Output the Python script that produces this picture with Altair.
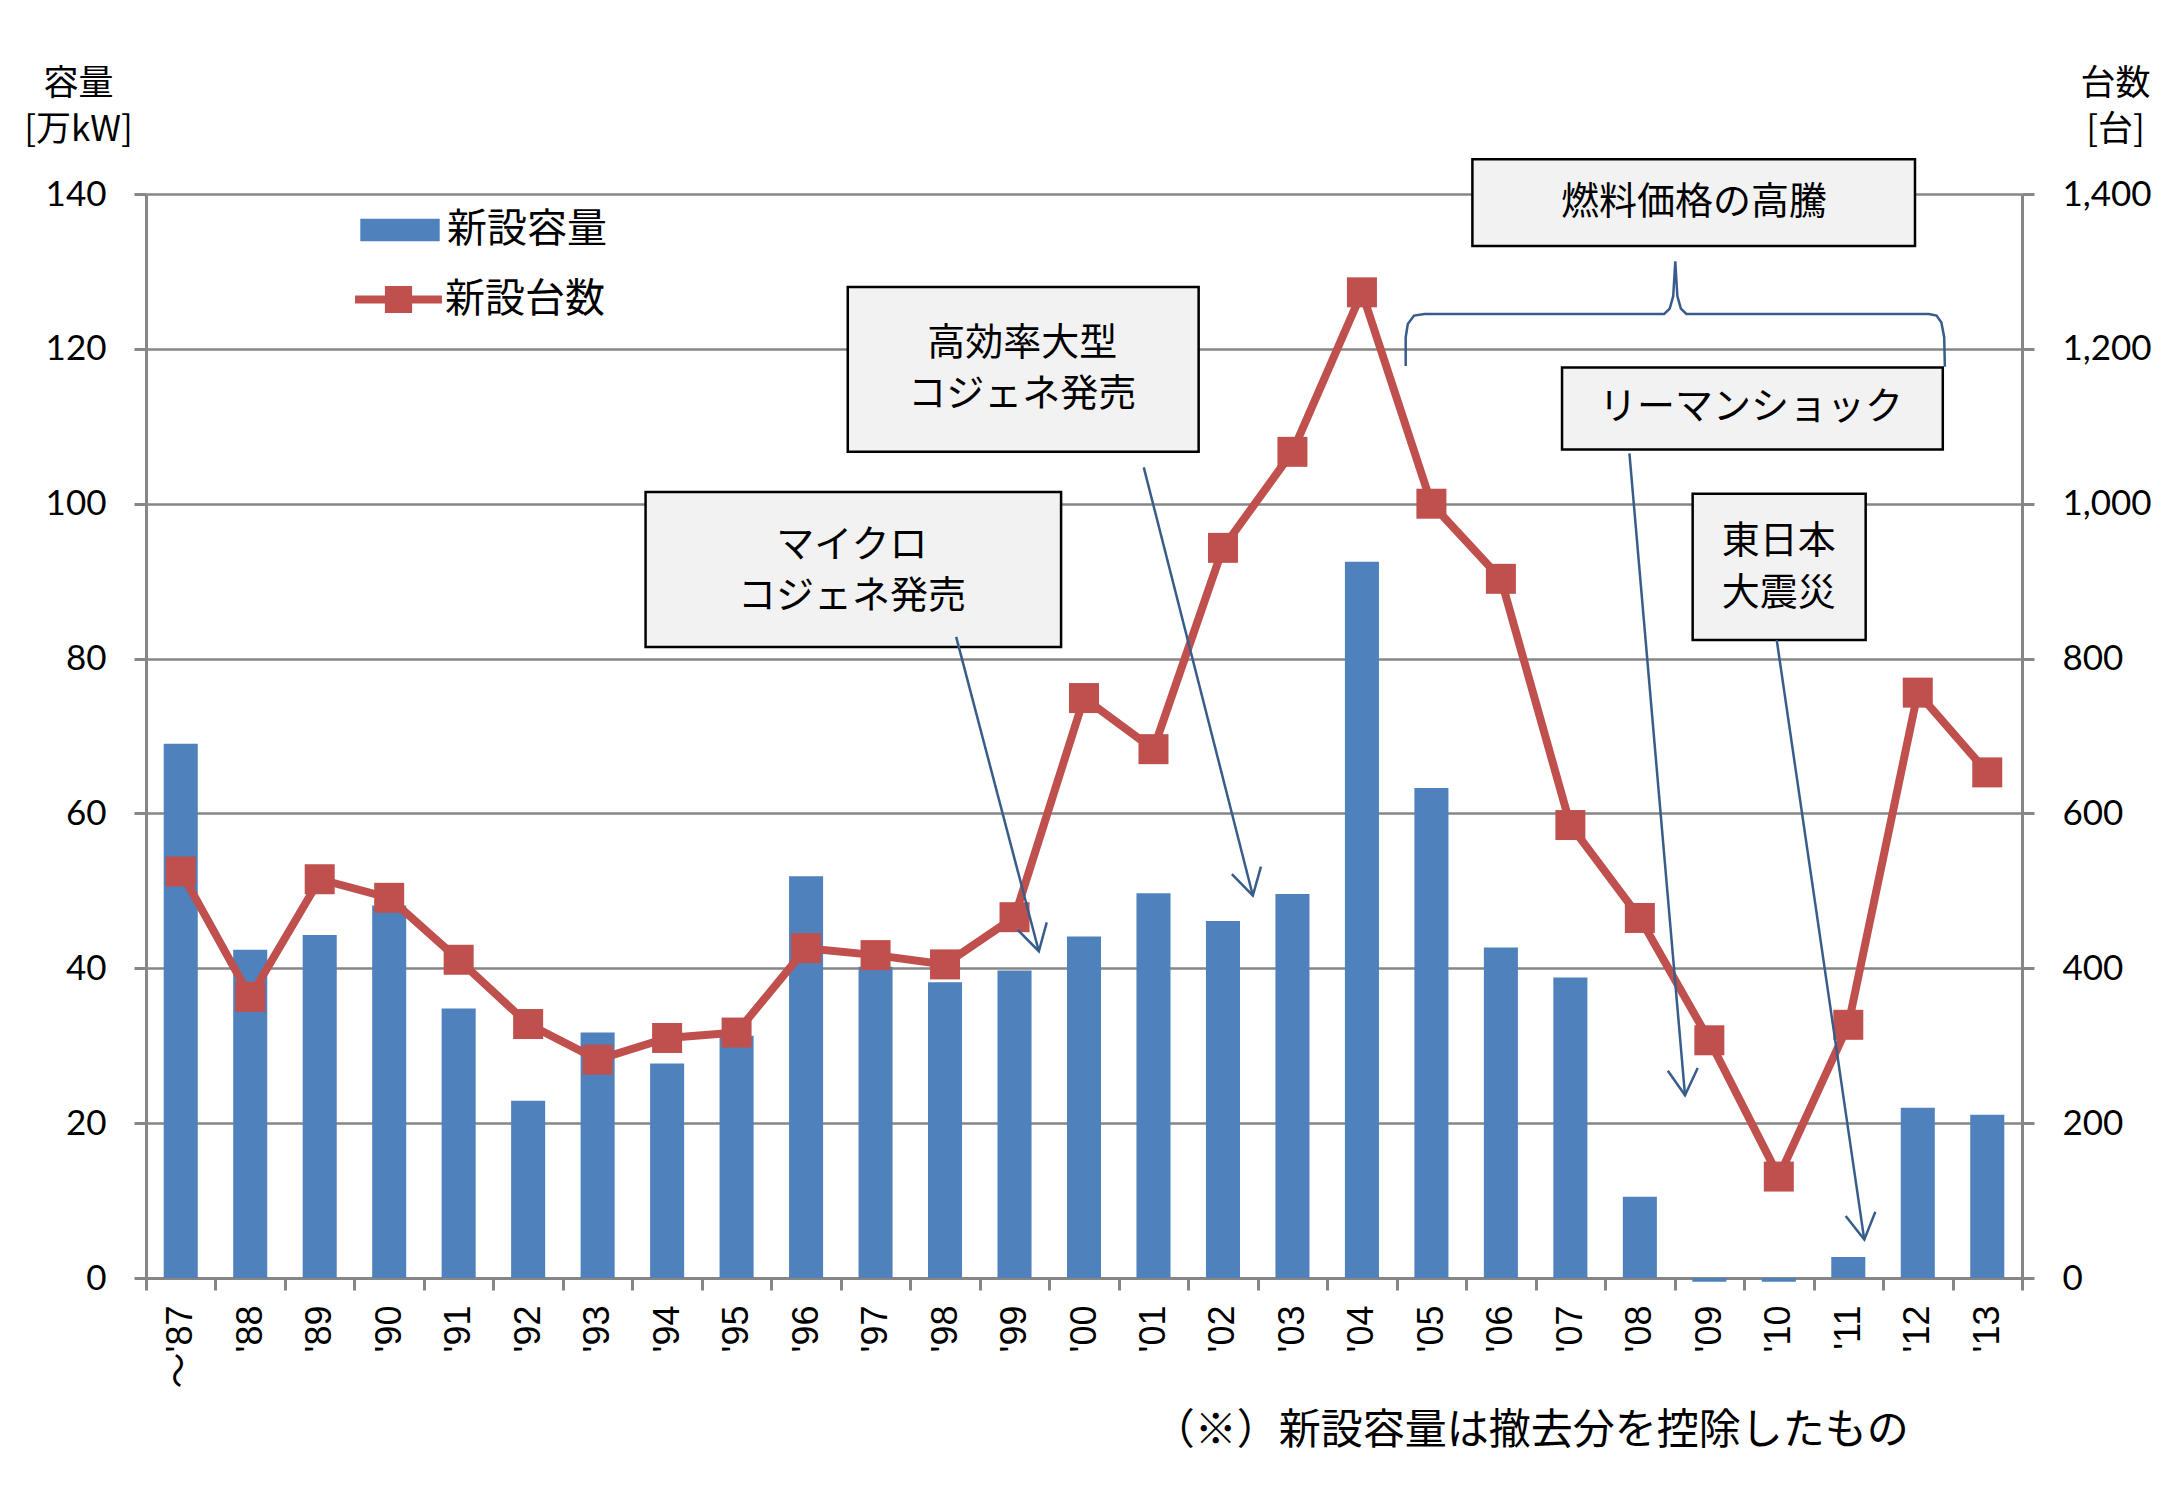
import math
import altair as alt
import pandas as pd

# ---------------- data ----------------
years = ["～'87", "'88", "'89", "'90", "'91", "'92", "'93", "'94", "'95", "'96",
         "'97", "'98", "'99", "'00", "'01", "'02", "'03", "'04", "'05", "'06",
         "'07", "'08", "'09", "'10", "'11", "'12", "'13"]
capacity = [69.0, 42.4, 44.3, 48.1, 34.8, 22.9, 31.7, 27.7, 31.3, 51.9,
            40.2, 38.2, 39.7, 44.1, 49.7, 46.1, 49.6, 92.5, 63.3, 42.7,
            38.8, 10.5, -0.5, -0.5, 2.7, 22.0, 21.1]
units = [525, 363, 515, 491, 411, 328, 282, 310, 317, 426,
         417, 405, 466, 749, 683, 943, 1067, 1273, 1000, 903,
         585, 465, 307, 131, 327, 756, 653]

series_bar = "新設容量"
series_line = "新設台数"
left_title = ["容量", "[万kW]"]
right_title = ["台数", "[台]"]
left_ticks = [0, 20, 40, 60, 80, 100, 120, 140]
right_ticks = [0, 200, 400, 600, 800, 1000, 1200, 1400]

# annotation boxes (category-index units on x, capacity units on y)
box_x0 = [7.19, 10.10, 19.09, 20.38, 22.26]
box_x1 = [13.17, 15.15, 25.46, 25.86, 24.75]
box_y0 = [81.5, 106.7, 133.3, 107.0, 82.4]
box_y1 = [101.5, 128.0, 144.5, 117.6, 101.3]

label_text = ["マイクロ", "コジェネ発売", "高効率大型", "コジェネ発売",
              "燃料価格の高騰", "リーマンショック", "東日本", "大震災"]
label_x = [10.16, 10.16, 12.61, 12.61, 22.28, 23.10, 23.50, 23.50]
label_y = [94.6, 87.9, 120.6, 114.0, 138.8, 112.4, 95.0, 88.4]

arrow_x0 = [11.66, 14.36, 21.35, 23.47]
arrow_y0 = [82.8, 104.7, 106.5, 82.4]
arrow_x1 = [12.85, 15.93, 22.15, 24.73]
arrow_y1 = [42.2, 49.4, 23.6, 4.96]

brace_x = [18.13, 18.13, 18.16, 18.25, 18.40, 21.85, 21.93, 21.98, 22.01, 22.04,
           22.09, 22.17, 25.66, 25.77, 25.84, 25.88, 25.89]
brace_y = [117.8, 121.5, 123.2, 124.3, 124.5, 124.5, 125.2, 126.8, 131.3, 126.8,
           125.2, 124.5, 124.5, 124.3, 123.4, 121.5, 117.7]

footnote = "（※）新設容量は撤去分を控除したもの"
footnote_x = 25.37
footnote_y = -19.7

# ---------------- style ----------------
W, H = 1876, 1084
N = len(years)
BLUE = "#4F81BD"
RED = "#C0504D"
GRAY = "#868686"
ARROW = "#385D8A"
JP = "Noto Sans CJK JP"
NUM = "Lato"

df = pd.DataFrame({"year": years, "capacity": capacity, "units": units,
                   "s_bar": series_bar, "s_line": series_line})

xband = alt.Scale(type="band", domain=years, paddingInner=0, paddingOuter=0)
yleft = alt.Scale(domain=[0, 140], nice=False)
yright = alt.Scale(domain=[0, 1400], nice=False)

common_axis = dict(tickSize=12, tickWidth=3, tickColor=GRAY, domainColor=GRAY,
                   domainWidth=3, labelColor="black", titleColor="black")

bars = alt.Chart(df).mark_bar(width={"band": 0.49}).encode(
    x=alt.X("year:N", scale=xband, sort=years,
            axis=alt.Axis(title=None, labelAngle=270,
                          labelFont="Liberation Sans, Noto Sans CJK JP",
                          labelFontSize=36, labelPadding=15, tickBand="extent",
                          grid=False, **common_axis)),
    y=alt.Y("capacity:Q", scale=yleft,
            axis=alt.Axis(values=left_ticks, title=left_title, titleAngle=0,
                          titleX=-68, titleY=-111, titleAlign="center",
                          titleBaseline="middle", titleFont=JP, titleFontSize=35,
                          titleFontWeight="normal", titleLineHeight=46,
                          labelFont=NUM, labelFontSize=35, labelPadding=28,
                          grid=True, gridColor=GRAY, gridWidth=2.5, **common_axis)),
    color=alt.Color("s_bar:N", scale=alt.Scale(domain=[series_bar], range=[BLUE]),
                    legend=alt.Legend(title=None, orient="none", legendX=214, legendY=-4,
                                      padding=0, symbolType="M-1,-0.282H1V0.282H-1Z",
                                      symbolSize=6304, symbolStrokeWidth=0,
                                      labelFont=JP, labelFontSize=40, labelColor="black",
                                      labelOffset=7, labelLimit=0)),
)

right_axis = alt.Axis(orient="right", values=right_ticks,
                      labelExpr="format(datum.value, ',')",
                      title=right_title, titleAngle=0, titleX=93, titleY=-111,
                      titleAlign="center", titleBaseline="middle", titleFont=JP,
                      titleFontSize=35, titleFontWeight="normal", titleLineHeight=46,
                      labelFont=NUM, labelFontSize=35, labelPadding=28,
                      grid=False, **common_axis)

line = alt.Chart(df).mark_line(strokeWidth=8, strokeJoin="round").encode(
    x=alt.X("year:N", scale=xband, sort=years, axis=None),
    y=alt.Y("units:Q", scale=yright, axis=right_axis),
    stroke=alt.Stroke("s_line:N", scale=alt.Scale(domain=[series_line], range=[RED]),
                      legend=alt.Legend(title=None, orient="none", legendX=209, legendY=62,
                                        padding=0,
                                        symbolType="M-1.1,0H1.1M-0.243,-0.243H0.243V0.243H-0.243Z",
                                        symbolSize=6241, symbolStrokeWidth=8,
                                        symbolFillColor=RED,
                                        labelFont=JP, labelFontSize=40, labelColor="black",
                                        labelOffset=3, labelLimit=0)),
)

points = alt.Chart(df).mark_point(shape="square", size=900, filled=True,
                                  color=RED, opacity=1).encode(
    x=alt.X("year:N", scale=xband, sort=years, axis=None),
    y=alt.Y("units:Q", scale=yright, axis=right_axis),
)

linegroup = alt.layer(line, points)

# ---------------- annotations ----------------
xs = alt.Scale(domain=[0, N], nice=False, zero=False)
ys = alt.Scale(domain=[0, 140], nice=False, zero=False)

boxes_df = pd.DataFrame({"x0": box_x0, "x1": box_x1, "y0": box_y0, "y1": box_y1})
boxes = alt.Chart(boxes_df).mark_rect(fill="#F2F2F2", stroke="black", strokeWidth=2.5).encode(
    x=alt.X("x0:Q", scale=xs, axis=None), x2="x1:Q",
    y=alt.Y("y0:Q", scale=ys, axis=None), y2="y1:Q",
)

labels_df = pd.DataFrame({"t": label_text, "x": label_x, "y": label_y})
labels = alt.Chart(labels_df).mark_text(font=JP, fontSize=38, color="black",
                                        align="center", baseline="middle").encode(
    x=alt.X("x:Q", scale=xs, axis=None),
    y=alt.Y("y:Q", scale=ys, axis=None),
    text="t:N",
)

px_x = W / N
px_y = H / 140.0
angles = []
for a, b, c, d in zip(arrow_x0, arrow_y0, arrow_x1, arrow_y1):
    dx = (c - a) * px_x
    dy = (b - d) * px_y
    angles.append(math.degrees(math.atan2(-dx, dy)) % 360)

arrows_df = pd.DataFrame({"x0": arrow_x0, "y0": arrow_y0, "x1": arrow_x1,
                          "y1": arrow_y1, "ang": angles})
arrows = alt.Chart(arrows_df).mark_rule(color=ARROW, strokeWidth=2.5).encode(
    x=alt.X("x0:Q", scale=xs, axis=None), x2="x1:Q",
    y=alt.Y("y0:Q", scale=ys, axis=None), y2="y1:Q",
)
heads = alt.Chart(arrows_df).mark_point(shape="M-0.5,-0.866L0,0L0.5,-0.866",
                                        size=3600, filled=False, color=ARROW,
                                        strokeWidth=2.5, opacity=1).encode(
    x=alt.X("x1:Q", scale=xs, axis=None),
    y=alt.Y("y1:Q", scale=ys, axis=None),
    angle=alt.Angle("ang:Q", scale=None),
)

brace_df = pd.DataFrame({"x": brace_x, "y": brace_y, "o": list(range(len(brace_x)))})
brace = alt.Chart(brace_df).mark_line(color=ARROW, strokeWidth=2.5).encode(
    x=alt.X("x:Q", scale=xs, axis=None),
    y=alt.Y("y:Q", scale=ys, axis=None),
    order="o:Q",
)

foot_df = pd.DataFrame({"t": [footnote], "x": [footnote_x], "y": [footnote_y]})
foot = alt.Chart(foot_df).mark_text(font=JP, fontSize=42, color="black",
                                    align="right", baseline="middle").encode(
    x=alt.X("x:Q", scale=xs, axis=None),
    y=alt.Y("y:Q", scale=ys, axis=None),
    text="t:N",
)

annotations = alt.layer(boxes, labels, arrows, heads, brace, foot)

chart = alt.layer(bars, linegroup, annotations).resolve_scale(
    x="independent", y="independent", color="independent"
).properties(
    width=W, height=H,
    autosize=alt.AutoSizeParams(type="none"),
    padding={"left": 146, "top": 194, "right": 152, "bottom": 208},
    background="white",
).configure_view(stroke=None)

chart.save("out.html", embed_options={"renderer": "svg", "actions": False})
